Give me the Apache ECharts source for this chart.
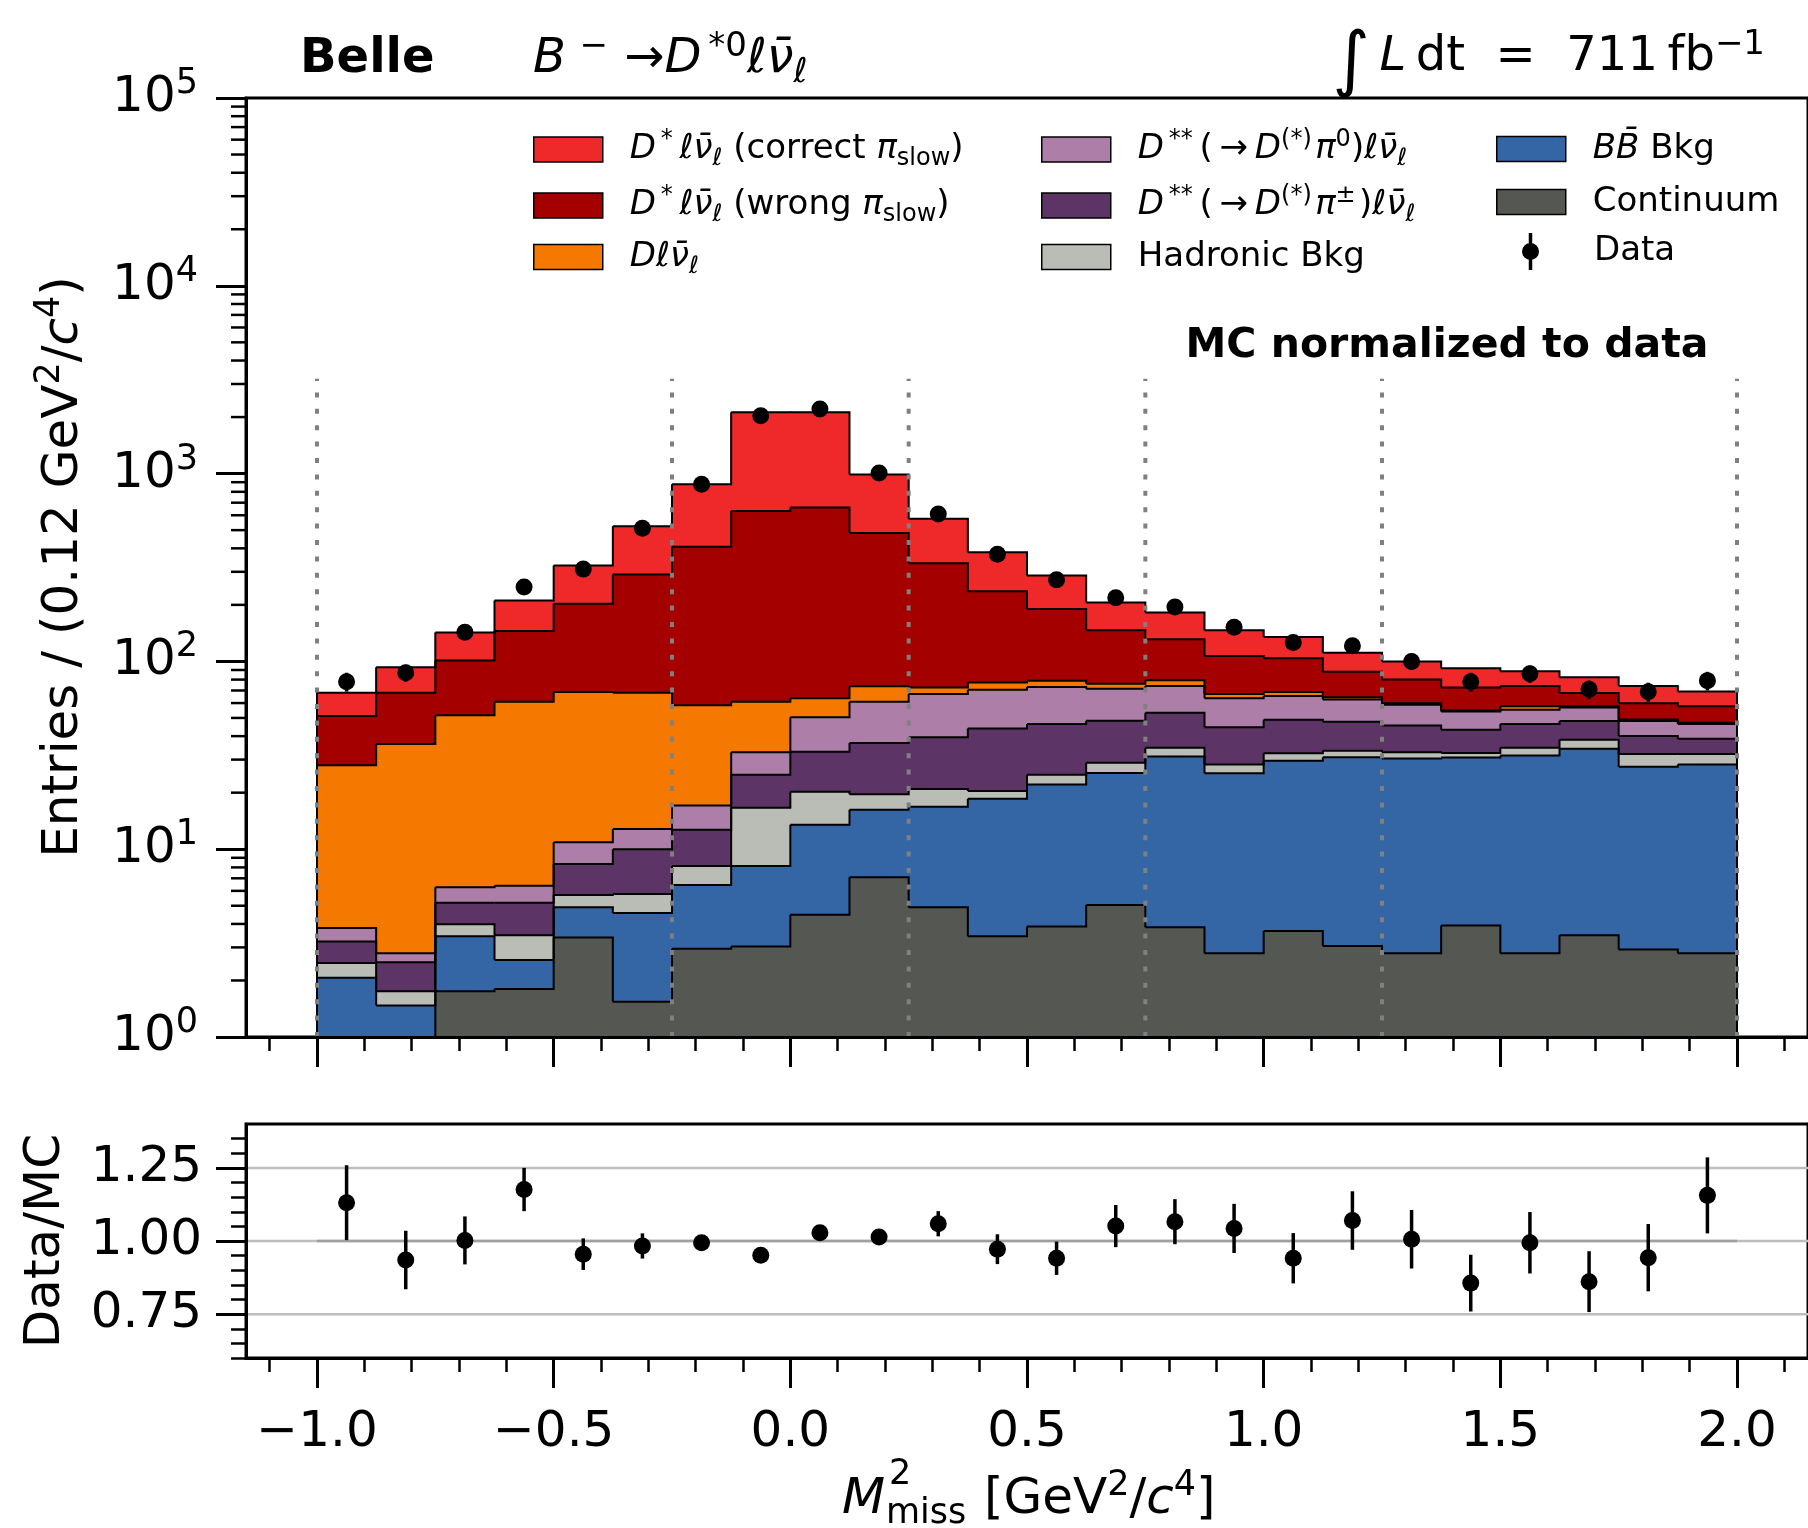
<!DOCTYPE html>
<html>
<head>
<meta charset="utf-8">
<script src="https://cdn.jsdelivr.net/npm/echarts@6/dist/echarts.min.js"></script>
<style>
html,body{margin:0;padding:0;background:#fff;}
#chart{width:1808px;height:1528px;}
</style>
</head>
<body>
<div id="chart"></div>
<script>
// ---------------- data ----------------
const binEdges = [-1.0,-0.875,-0.75,-0.625,-0.5,-0.375,-0.25,-0.125,0.0,0.125,0.25,0.375,0.5,0.625,0.75,0.875,1.0,1.125,1.25,1.375,1.5,1.625,1.75,1.875,2.0];

// stacked components, bottom to top (entries per bin)
const continuum    = [0, 0, 1.75, 1.80, 3.39, 1.54, 2.95, 3.03, 4.47, 7.08, 4.91, 3.44, 3.88, 5.05, 3.84, 2.79, 3.67, 3.05, 2.79, 3.92, 2.79, 3.48, 2.92, 2.79];
const bbBkg        = [2.07, 1.47, 1.69, 0.77, 1.52, 3.03, 3.50, 5.10, 9.03, 9.12, 11.9, 15.1, 18.2, 20.4, 27.3, 22.6, 25.9, 27.8, 27.6, 26.9, 28.8, 30.8, 24.6, 25.5];
const hadronicBkg  = [0.41, 0.28, 0.55, 0.91, 0.79, 1.21, 1.68, 8.47, 6.70, 3.40, 4.1, 1.9, 2.8, 3.4, 3.6, 2.9, 2.9, 2.6, 2.4, 1.7, 3.1, 4.0, 4.6, 3.8];
const dssPiCharged = [0.74, 0.75, 1.20, 1.71, 2.65, 4.22, 4.57, 8.3, 12.8, 17.2, 18.5, 23.5, 21.5, 19.4, 18.5, 16.3, 16.5, 14.3, 12.8, 10.8, 11.7, 9.9, 7.9, 6.6];
const dssPiZero    = [0.58, 0.29, 1.09, 1.20, 2.55, 2.80, 4.40, 7.9, 17.4, 24.2, 27.6, 26.8, 26.7, 23.2, 20.7, 19.1, 16.5, 15.0, 13.1, 10.8, 8.9, 8.6, 8.2, 7.7];
const dLnu         = [24.2, 33.5, 45.4, 54.6, 57.9, 55.2, 41.3, 28.2, 13.3, 12.8, 5.7, 6.5, 5.8, 4.5, 5.4, 3.3, 3.3, 1.7, 1.2, 0.6, 2.4, 0.9, 0.8, 0.7];
const dstarWrong   = [23.2, 31.7, 49.3, 84, 134, 222, 350, 571, 597, 409, 260, 159, 111, 70.6, 51.7, 40, 35.2, 23.6, 20.3, 17.9, 16.2, 10.3, 10.9, 10.6];
const dstarCorrect = [16.8, 25, 41.6, 66, 121, 235, 470, 1488, 1459, 507, 243, 145, 97, 59.5, 51, 39.5, 31, 23, 19.6, 19.4, 14.6, 14.4, 14, 11.5];

// data points
const dataCounts = [78, 87, 143, 249, 310, 511, 878, 2030, 2205, 1006, 609, 372, 272, 218, 195, 152, 126, 121, 100, 78, 86, 71, 69, 79];
const dataErr    = [9, 9, 12, 16, 18, 23, 30, 45, 47, 32, 25, 19, 16, 15, 14, 12, 11, 11, 10, 9, 9, 8, 8, 9];

// ratio panel
const ratioVals = [1.131, 0.935, 1.002, 1.176, 0.955, 0.983, 0.994, 0.951, 1.028, 1.014, 1.059, 0.972, 0.941, 1.051, 1.066, 1.043, 0.941, 1.070, 1.006, 0.856, 0.994, 0.861, 0.943, 1.156];
const ratioErr  = [0.128, 0.100, 0.082, 0.074, 0.054, 0.043, 0.026, 0.015, 0.015, 0.020, 0.043, 0.051, 0.057, 0.072, 0.077, 0.084, 0.086, 0.100, 0.100, 0.097, 0.105, 0.104, 0.115, 0.130];

// region separators and ticks
const regionEdges = [-1.0, -0.25, 0.25, 0.75, 1.25, 2.0];
const regionTop = 3200;
const xMajorTicks = [-1.0, -0.5, 0.0, 0.5, 1.0, 1.5, 2.0];
const xMinorTicks = [-1.1,-0.9,-0.8,-0.7,-0.6,-0.4,-0.3,-0.2,-0.1,0.1,0.2,0.3,0.4,0.6,0.7,0.8,0.9,1.1,1.2,1.3,1.4,1.6,1.7,1.8,1.9,2.1];
const yMinorTicks = [2,3,4,5,6,7,8,9,20,30,40,50,60,70,80,90,200,300,400,500,600,700,800,900,2000,3000,4000,5000,6000,7000,8000,9000,20000,30000,40000,50000,60000,70000,80000,90000];
const ratioMajorTicks = [0.75, 1.0, 1.25];
const ratioMinorTicks = [0.6,0.65,0.7,0.8,0.85,0.9,0.95,1.05,1.1,1.15,1.2,1.3,1.35];
const ratioGridLines = [0.75, 1.0, 1.25];

// ---------------- layout / style ----------------
const X_MIN = -1.15, X_MAX = 2.15, Y_MIN = 1, Y_MAX = 100000;
const FONT = 'DejaVu Sans';

function mkRich(fs, extraGap) {
  const L = Math.round(fs * 1.25), s = Math.round(fs * 0.7);
  const hSup = Math.round(L - 2 * 0.26 * fs);
  const hSub = Math.round(L - 2 * 0.30 * fs);
  const base = {fontFamily: FONT, color: '#000'};
  return {
    n:    Object.assign({}, base, {fontSize: fs, lineHeight: L}),
    i:    Object.assign({}, base, {fontSize: fs, lineHeight: L, fontStyle: 'italic'}),
    b:    Object.assign({}, base, {fontSize: fs, lineHeight: L, fontWeight: 'bold'}),
    big:  Object.assign({}, base, {fontSize: Math.round(fs * 1.5), lineHeight: Math.round(L * 0.68), verticalAlign: 'top'}),
    sup:  Object.assign({}, base, {fontSize: s, lineHeight: hSup, verticalAlign: 'top'}),
    supi: Object.assign({}, base, {fontSize: s, lineHeight: hSup, verticalAlign: 'top', fontStyle: 'italic'}),
    sub:  Object.assign({}, base, {fontSize: s, lineHeight: hSub, verticalAlign: 'bottom'}),
    subi: Object.assign({}, base, {fontSize: s, lineHeight: hSub, verticalAlign: 'bottom', fontStyle: 'italic'}),
    gap:  {width: extraGap || 22, lineHeight: L}
  };
}
const NUBAR = '\u03bd\u0304';
const TS = '\u2009';
const HS = '\u200a';
const legendLabels = {
  dstarCorrect: '{gap| }{i|D}{sup|' + TS + '*}{i|' + TS + '\u2113' + NUBAR + '}{subi|\u2113}{n| (correct }{i|\u03c0}{sub|slow}{n|)}',
  dstarWrong:   '{gap| }{i|D}{sup|' + TS + '*}{i|' + TS + '\u2113' + NUBAR + '}{subi|\u2113}{n| (wrong }{i|\u03c0}{sub|slow}{n|)}',
  dLnu:         '{gap| }{i|D\u2113' + NUBAR + '}{subi|\u2113}',
  dssPiZero:    '{gap| }{i|D}{sup|' + TS + '**}{n|' + TS + '(' + TS + '\u2192' + TS + '}{i|D}{sup|(*)}{i|' + HS + '\u03c0}{sup|0}{n|)}{i|\u2113' + NUBAR + '}{subi|\u2113}',
  dssPiCharged: '{gap| }{i|D}{sup|' + TS + '**}{n|' + TS + '(' + TS + '\u2192' + TS + '}{i|D}{sup|(*)}{i|' + HS + '\u03c0}{sup|\u00b1}{n|' + HS + ')}{i|\u2113' + NUBAR + '}{subi|\u2113}',
  hadronic:     '{gap| }{n|Hadronic Bkg}',
  bb:           '{gap| }{i|B}{i|B\u0304}{n| Bkg}',
  cont:         '{gap| }{n|Continuum}',
  Data:         '{gap| }{n|Data}'
};

const stack = [
  {key: 'cont',         vals: continuum,    color: '#555753'},
  {key: 'bb',           vals: bbBkg,        color: '#3465a4'},
  {key: 'hadronic',     vals: hadronicBkg,  color: '#babdb6'},
  {key: 'dssPiCharged', vals: dssPiCharged, color: '#5c3566'},
  {key: 'dssPiZero',    vals: dssPiZero,    color: '#ad7fa8'},
  {key: 'dLnu',         vals: dLnu,         color: '#f57900'},
  {key: 'dstarWrong',   vals: dstarWrong,   color: '#a40000'},
  {key: 'dstarCorrect', vals: dstarCorrect, color: '#ef2929'}
];
let running = dataCounts.map(() => 0);
stack.forEach(c => {
  c.base = running.slice();
  c.top = running.map((r, i) => r + c.vals[i]);
  running = c.top;
});
const binCenters = dataCounts.map((_, i) => (binEdges[i] + binEdges[i + 1]) / 2);

function bandRenderer(c) {
  return function (params, api) {
    const i = params.dataIndex, n = c.top.length;
    const lo = api.value(0), hi = api.value(1);
    const base = Math.max(api.value(2), Y_MIN), top = Math.max(api.value(3), Y_MIN);
    const a = api.coord([lo, top]), b = api.coord([hi, base]);
    const kids = [];
    if (top > base) {
      kids.push({type: 'rect', z2: 0, shape: {x: a[0] - 0.5, y: a[1], width: b[0] - a[0] + 1, height: b[1] - a[1]}, style: {fill: c.color}});
    }
    const pts = [[a[0], a[1]], [b[0], a[1]]];
    if (i < n - 1) {
      pts.push([b[0], api.coord([hi, Math.max(c.top[i + 1], Y_MIN)])[1]]);
    } else {
      pts.push([b[0], b[1]]);
    }
    if (i === 0) pts.unshift([a[0], b[1]]);
    kids.push({type: 'polyline', z2: 10, shape: {points: pts}, style: {stroke: '#000', lineWidth: 2, fill: null, lineJoin: 'miter'}});
    return {type: 'group', children: kids};
  };
}

const bandSeries = stack.map(c => ({
  type: 'custom', name: c.key, xAxisIndex: 0, yAxisIndex: 0, z: 2, silent: true,
  itemStyle: {color: c.color},
  encode: {x: [0, 1], y: [2, 3]},
  data: dataCounts.map((_, i) => [binEdges[i], binEdges[i + 1], c.base[i], c.top[i]]),
  renderItem: bandRenderer(c)
}));

function vErrRenderer(width) {
  return function (params, api) {
    const a = api.coord([api.value(0), api.value(1)]);
    const b = api.coord([api.value(0), api.value(2)]);
    return {type: 'line', shape: {x1: a[0], y1: a[1], x2: b[0], y2: b[1]}, style: {stroke: '#000', lineWidth: width}};
  };
}

const tickRich = mkRich(50);
const legRich = mkRich(34);
const titleRich = mkRich(48);
const axRich = mkRich(50);

const axisLineStyle = {color: '#000', width: 3};
const DATA_ICON = 'path://M-34.5,0L-34.5,0.01L-34.49,0.01Z M-1.75,-18.5L1.75,-18.5L1.75,-6L-1.75,-6Z M-1.75,6L1.75,6L1.75,18.5L-1.75,18.5Z M0,-8.5A8.5,8.5 0 1,1 0,8.5A8.5,8.5 0 1,1 0,-8.5Z M34.49,0L34.5,0L34.5,0.01Z';

function legendCol(names, left, top, gap) {
  return {
    data: names, orient: 'vertical', left: left, top: top, padding: 0,
    itemWidth: 69, itemHeight: 25, itemGap: gap, selectedMode: false,
    icon: 'rect',
    itemStyle: {borderColor: '#000', borderWidth: 1.5},
    formatter: name => legendLabels[name],
    textStyle: {fontFamily: FONT, fontSize: 34, color: '#000', rich: legRich}
  };
}

const option = {
  backgroundColor: '#fff',
  animation: false,
  tooltip: {show: false},
  grid: [
    {left: 246, top: 98, width: 1566, height: 939, show: true, borderColor: '#000', borderWidth: 3, backgroundColor: 'transparent'},
    {left: 246, top: 1124, width: 1566, height: 234, show: true, borderColor: '#000', borderWidth: 3, backgroundColor: 'transparent'}
  ],
  xAxis: [
    {gridIndex: 0, type: 'value', min: X_MIN, max: X_MAX, position: 'bottom', z: 10,
     axisLine: {show: true, onZero: false, lineStyle: axisLineStyle},
     axisTick: {show: true, customValues: xMajorTicks, length: 30, lineStyle: {color: '#000', width: 3}},
     axisLabel: {show: false}, splitLine: {show: false}},
    {gridIndex: 0, type: 'value', min: X_MIN, max: X_MAX, position: 'bottom', z: 10,
     axisLine: {show: false, onZero: false},
     axisTick: {show: true, customValues: xMinorTicks, length: 14, lineStyle: {color: '#000', width: 2.5}},
     axisLabel: {show: false}, splitLine: {show: false}},
    {gridIndex: 1, type: 'value', min: X_MIN, max: X_MAX, position: 'bottom', z: 10,
     axisLine: {show: true, onZero: false, lineStyle: axisLineStyle},
     axisTick: {show: true, customValues: xMajorTicks, length: 30, lineStyle: {color: '#000', width: 3}},
     axisLabel: {show: true, customValues: xMajorTicks, margin: 50, fontSize: 50, fontFamily: FONT, color: '#000',
                 formatter: v => (v < 0 ? '\u2212' : '') + Math.abs(v).toFixed(1)},
     splitLine: {show: false}},
    {gridIndex: 1, type: 'value', min: X_MIN, max: X_MAX, position: 'bottom', z: 10,
     axisLine: {show: false, onZero: false},
     axisTick: {show: true, customValues: xMinorTicks, length: 14, lineStyle: {color: '#000', width: 2.5}},
     axisLabel: {show: false}, splitLine: {show: false}}
  ],
  yAxis: [
    {gridIndex: 0, type: 'log', logBase: 10, min: Y_MIN, max: Y_MAX, position: 'left', z: 10,
     axisLine: {show: true, onZero: false, lineStyle: axisLineStyle},
     axisTick: {show: true, length: 30, lineStyle: {color: '#000', width: 3}},
     minorTick: {show: false},
     axisLabel: {show: true, margin: 48, rich: tickRich,
                 formatter: v => '{n|10}{sup|' + Math.round(Math.log10(v)) + '}'},
     splitLine: {show: false}},
    {gridIndex: 1, type: 'value', min: 0.6, max: 1.4, position: 'left', z: 10,
     axisLine: {show: true, onZero: false, lineStyle: axisLineStyle},
     axisTick: {show: true, customValues: ratioMajorTicks, length: 30, lineStyle: {color: '#000', width: 3}},
     axisLabel: {show: true, customValues: ratioMajorTicks, margin: 44, fontSize: 50, fontFamily: FONT, color: '#000',
                 formatter: v => v.toFixed(2)},
     splitLine: {show: false}},
    {gridIndex: 1, type: 'value', min: 0.6, max: 1.4, position: 'left', z: 10,
     axisLine: {show: false, onZero: false},
     axisTick: {show: true, customValues: ratioMinorTicks, length: 15, lineStyle: {color: '#000', width: 2.5}},
     axisLabel: {show: false}, splitLine: {show: false}}
  ],
  legend: [
    legendCol(['dstarCorrect', 'dstarWrong', 'dLnu'], 533, 128, 13),
    legendCol(['dssPiZero', 'dssPiCharged', 'hadronic'], 1041, 128, 13),
    legendCol(['bb', 'cont'], 1496, 132, 19),
    {data: [{name: 'Data', icon: DATA_ICON}], orient: 'vertical', left: 1496, top: 233, padding: 0,
     itemWidth: 69, itemHeight: 37, selectedMode: false,
     itemStyle: {borderWidth: 0, color: '#000', opacity: 1},
     formatter: name => legendLabels[name],
     textStyle: {fontFamily: FONT, fontSize: 34, color: '#000', rich: mkRich(34, 24)}}
  ],
  series: bandSeries.concat([
    {type: 'custom', name: 'regions', xAxisIndex: 0, yAxisIndex: 0, z: 3, silent: true,
     encode: {x: 0, y: [1, 2]},
     data: regionEdges.map(x => [x, Y_MIN, regionTop]),
     renderItem: function (params, api) {
       const a = api.coord([api.value(0), api.value(1)]);
       const b = api.coord([api.value(0), api.value(2)]);
       return {type: 'line', shape: {x1: a[0], y1: a[1], x2: b[0], y2: b[1]},
               style: {stroke: '#808080', lineWidth: 4, lineDash: [5, 11.4], lineCap: 'butt'}};
     }},
    {type: 'custom', name: 'dataErr', xAxisIndex: 0, yAxisIndex: 0, z: 4, silent: true,
     encode: {x: 0, y: [1, 2]},
     data: dataCounts.map((v, i) => [binCenters[i], v - dataErr[i], v + dataErr[i]]),
     renderItem: vErrRenderer(3.5)},
    {type: 'scatter', name: 'Data', xAxisIndex: 0, yAxisIndex: 0, z: 5, silent: true,
     symbol: 'circle', symbolSize: 17, itemStyle: {color: '#000', opacity: 1},
     data: dataCounts.map((v, i) => [binCenters[i], v])},
    {type: 'custom', name: 'logMinorTicks', xAxisIndex: 0, yAxisIndex: 0, z: 10, silent: true, clip: false,
     encode: {x: 0, y: 1},
     data: yMinorTicks.map(v => [X_MIN, v]),
     renderItem: function (params, api) {
       const p = api.coord([api.value(0), api.value(1)]);
       return {type: 'line', shape: {x1: p[0] - 15, y1: p[1], x2: p[0], y2: p[1]}, style: {stroke: '#000', lineWidth: 2.5}};
     }},
    {type: 'custom', name: 'ratioGrid', xAxisIndex: 2, yAxisIndex: 1, z: 1, silent: true,
     encode: {x: [0, 2], y: 1},
     data: ratioGridLines.map(v => [X_MIN, v, X_MAX]),
     renderItem: function (params, api) {
       const a = api.coord([api.value(0), api.value(1)]);
       const b = api.coord([api.value(2), api.value(1)]);
       return {type: 'line', shape: {x1: a[0], y1: a[1], x2: b[0], y2: b[1]}, style: {stroke: '#bdbdbd', lineWidth: 2.5}};
     }},
    {type: 'custom', name: 'ratioRef', xAxisIndex: 2, yAxisIndex: 1, z: 1, silent: true,
     encode: {x: [0, 2], y: 1},
     data: [[regionEdges[0], 1.0, regionEdges[regionEdges.length - 1]]],
     renderItem: function (params, api) {
       const a = api.coord([api.value(0), api.value(1)]);
       const b = api.coord([api.value(2), api.value(1)]);
       return {type: 'line', shape: {x1: a[0], y1: a[1], x2: b[0], y2: b[1]}, style: {stroke: '#a0a0a0', lineWidth: 2.5}};
     }},
    {type: 'custom', name: 'ratioErr', xAxisIndex: 2, yAxisIndex: 1, z: 4, silent: true,
     encode: {x: 0, y: [1, 2]},
     data: ratioVals.map((v, i) => [binCenters[i], v - ratioErr[i], v + ratioErr[i]]),
     renderItem: vErrRenderer(3.5)},
    {type: 'scatter', name: 'ratio', xAxisIndex: 2, yAxisIndex: 1, z: 5, silent: true,
     symbol: 'circle', symbolSize: 17, itemStyle: {color: '#000', opacity: 1},
     data: ratioVals.map((v, i) => [binCenters[i], v])}
  ]),
  graphic: [
    {type: 'text', x: 300, y: 60, silent: true,
     style: {text: 'Belle', font: 'bold 48px "DejaVu Sans"', fill: '#000', align: 'left', verticalAlign: 'middle'}},
    {type: 'text', x: 533, y: 60, silent: true,
     style: {text: '{i|B}{sup|' + TS + TS + '\u2212' + TS + '}{n|' + TS + '\u2192}{i|D}{sup|' + TS + '*0}{i|\u2113' + NUBAR + '}{subi|\u2113}',
             rich: titleRich, fontSize: 48, fontFamily: FONT, align: 'left', verticalAlign: 'middle'}},
    {type: 'text', x: 1765, y: 58, silent: true,
     style: {text: '{big|\u222b}{i|\u2009L}{n|\u2009dt  =  711\u2009fb}{sup|\u22121}',
             rich: titleRich, fontSize: 48, fontFamily: FONT, align: 'right', verticalAlign: 'middle'}},
    {type: 'text', x: 1447, y: 346, silent: true,
     style: {text: 'MC normalized to data', font: 'bold 41px "DejaVu Sans"', fill: '#000', align: 'center', verticalAlign: 'middle'}},
    {type: 'text', x: 64, y: 567, rotation: Math.PI / 2, silent: true,
     style: {text: '{n|Entries / (0.12 GeV}{sup|2}{n|/}{i|c}{sup|4}{n|)}',
             rich: axRich, fontSize: 50, fontFamily: FONT, align: 'center', verticalAlign: 'middle'}},
    {type: 'text', x: 46, y: 1241, rotation: Math.PI / 2, silent: true,
     style: {text: 'Data/MC', font: '50px "DejaVu Sans"', fill: '#000', align: 'center', verticalAlign: 'middle'}},
    {type: 'text', x: 842, y: 1500, silent: true,
     style: {text: 'M', font: 'italic 50px "DejaVu Sans"', fill: '#000', align: 'left', verticalAlign: 'middle'}},
    {type: 'text', x: 889, y: 1475, silent: true,
     style: {text: '2', font: '35px "DejaVu Sans"', fill: '#000', align: 'left', verticalAlign: 'middle'}},
    {type: 'text', x: 886, y: 1514, silent: true,
     style: {text: 'miss', font: '35px "DejaVu Sans"', fill: '#000', align: 'left', verticalAlign: 'middle'}},
    {type: 'text', x: 984, y: 1500, silent: true,
     style: {text: '{n|[GeV}{sup|2}{n|/}{i|c}{sup|4}{n|]}',
             rich: axRich, fontSize: 50, fontFamily: FONT, align: 'left', verticalAlign: 'middle'}}
  ]
};

const chart = echarts.init(document.getElementById('chart'), null, {renderer: 'canvas'});
chart.setOption(option);
</script>
</body>
</html>
